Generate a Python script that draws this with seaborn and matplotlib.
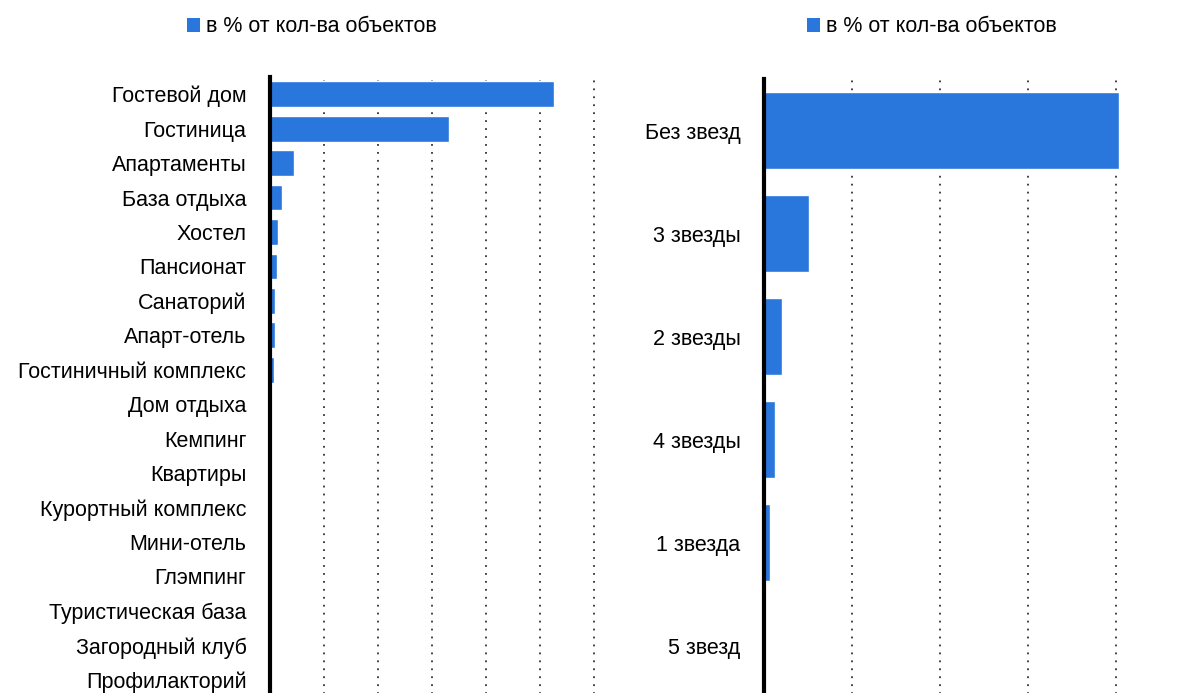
import matplotlib
matplotlib.use("Agg")
import matplotlib.pyplot as plt
import seaborn as sns
from matplotlib.patches import Patch

sns.set_theme(style="white")
plt.rcParams['font.family'] = ['Liberation Sans', 'DejaVu Sans']
plt.rcParams['text.color'] = 'black'

# Data (percent of objects)
types = ["Гостевой дом", "Гостиница", "Апартаменты", "База отдыха", "Хостел",
         "Пансионат", "Санаторий", "Апарт-отель", "Гостиничный комплекс",
         "Дом отдыха", "Кемпинг", "Квартиры", "Курортный комплекс",
         "Мини-отель", "Глэмпинг", "Туристическая база", "Загородный клуб",
         "Профилакторий"]
type_pct = [52.6, 33.1, 4.4, 2.2, 1.5, 1.3, 0.9, 0.9, 0.7, 0.2,
            0.06, 0.05, 0.05, 0.04, 0.03, 0.03, 0.02, 0.02]

stars = ["Без звезд", "3 звезды", "2 звезды", "4 звезды", "1 звезда", "5 звезд"]
star_pct = [80.7, 10.2, 4.1, 2.5, 1.4, 0.3]

legend_label = "в % от кол-ва объектов"
BAR = "#2976dc"
FS = 15.5

W, H = 1198, 693
fig = plt.figure(figsize=(W / 100, H / 100), dpi=100)


def px_axes(x0, x1, y0, y1):
    return fig.add_axes([x0 / W, 1 - y1 / H, (x1 - x0) / W, (y1 - y0) / H])


def style(ax, xmax, grid_ticks):
    ax.set_xlim(0, xmax)
    ax.set_xticks(grid_ticks)
    ax.set_xticklabels([])
    ax.tick_params(axis="x", length=0)
    ax.tick_params(axis="y", length=0, pad=17, labelsize=FS, labelcolor="black")
    ax.set_xlabel("")
    ax.set_ylabel("")
    for s in ["top", "right", "bottom"]:
        ax.spines[s].set_visible(False)
    ax.spines["left"].set_visible(True)
    ax.spines["left"].set_color("black")
    ax.spines["left"].set_linewidth(3)
    ax.spines["left"].set_zorder(5)
    ax.grid(False)
    for t in grid_ticks:
        ax.axvline(t, color="#333333", linewidth=1.3, linestyle=(0, (1, 3.4)),
                   zorder=0, clip_on=False)


# Left panel
ax1 = px_axes(270, 600, 77, 697)
sns.barplot(x=type_pct, y=types, orient="h", color=BAR, width=0.75,
            saturation=1, ax=ax1, zorder=2)
style(ax1, (600 - 270) / 54 * 10, [10, 20, 30, 40, 50, 60])

# Right panel
ax2 = px_axes(764, 1195, 79, 697)
sns.barplot(x=star_pct, y=stars, orient="h", color=BAR, width=0.74,
            saturation=1, ax=ax2, zorder=2)
style(ax2, (1195 - 764) / 88 * 20, [20, 40, 60, 80])

handle = [Patch(facecolor=BAR, edgecolor="none")]
for x0 in (176, 796):
    fig.legend(handle, [legend_label], loc="center left",
               bbox_to_anchor=(x0 / W, 1 - 27 / H), frameon=False, fontsize=FS,
               labelcolor="black",
               handlelength=0.6, handleheight=0.6, handletextpad=0.3, borderpad=0)

fig.savefig("out.png", dpi=100, facecolor="white")
